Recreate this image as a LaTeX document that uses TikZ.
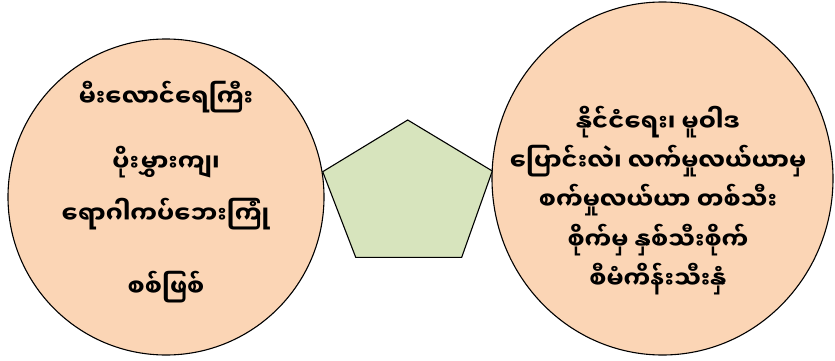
\documentclass[tikz,border=0pt]{standalone}
\usepackage{fontspec}
\newfontfamily\myan[Script=Myanmar]{Noto Sans Myanmar UI}
\usetikzlibrary{shapes.geometric}
\definecolor{peach}{HTML}{FBD5B5}
\definecolor{sage}{HTML}{D7E4BD}
\tikzset{
  blob/.style={ellipse, draw=black, line width=1.1pt, fill=peach, inner sep=0pt},
  mtext/.style={font=\myan\bfseries\fontsize{24}{28}\selectfont, inner sep=0pt, anchor=center}
}
\begin{document}
\begin{tikzpicture}[x=1pt,y=-1pt]
\useasboundingbox (0,0) rectangle (835,361);
\node[blob, minimum width=316pt, minimum height=316pt] (left) at (166,197) {};
\node[blob, minimum width=341pt, minimum height=353pt] (right) at (662.5,178.5) {};
\coordinate (p1) at (407.7,120);
\coordinate (p2) at (492.3,171);
\coordinate (p3) at (461.7,257.3);
\coordinate (p4) at (355.7,257.3);
\coordinate (p5) at (322.7,171.7);
\draw[line width=1.1pt, fill=sage, line join=miter] (p1) -- (p2) -- (p3) -- (p4) -- (p5) -- cycle;
\node[mtext] (l1) at (166,97) {မီးလောင်ရေကြီး};
\node[mtext] (l2) at (166,162) {ပိုးမွှားကျ၊};
\node[mtext] (l3) at (166,214) {ရောဂါကပ်ဘေးကြုံ};
\node[mtext] (l4) at (166,287) {စစ်ဖြစ်};
\node[mtext] (r1) at (658,122) {နိုင်ငံရေး၊ မူဝါဒ};
\node[mtext] (r2) at (658,161) {ပြောင်းလဲ၊ လက်မှုလယ်ယာမှ};
\node[mtext] (r3) at (658,200) {စက်မှုလယ်ယာ တစ်သီး};
\node[mtext] (r4) at (658,240) {စိုက်မှ နှစ်သီးစိုက်};
\node[mtext] (r5) at (658,279) {စီမံကိန်းသီးနှံ};
\end{tikzpicture}
\end{document}
